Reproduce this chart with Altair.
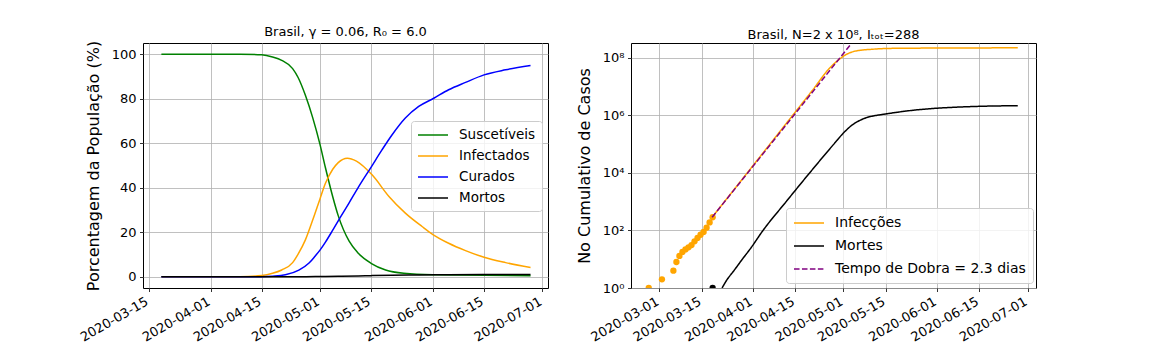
import altair as alt
import pandas as pd

FONT = "DejaVu Sans"

# ---------------- Left panel: SIR model (% of population) ----------------
sus_dates = ["2020-03-18T12:00", "2020-04-09T00:00", "2020-04-15T00:00", "2020-04-18T00:00",
             "2020-04-20T12:00", "2020-04-23T12:00", "2020-04-25T00:00", "2020-04-27T00:00",
             "2020-04-29T00:00", "2020-05-01T00:00", "2020-05-02T12:00", "2020-05-04T12:00",
             "2020-05-06T00:00", "2020-05-09T00:00", "2020-05-11T12:00", "2020-05-15T00:00",
             "2020-05-19T00:00", "2020-05-24T00:00", "2020-06-01T00:00", "2020-06-27T18:00"]
sus_vals = [100, 100, 99.7, 98.7, 97.2, 93.5, 89.5, 81.5, 71.5, 59.5, 49, 36, 27.5, 16, 10.6,
            6.1, 3.1, 1.6, 0.9, 0.5]

inf_dates = ["2020-03-18T12:00", "2020-04-09T00:00", "2020-04-15T00:00", "2020-04-18T00:00",
             "2020-04-20T12:00", "2020-04-23T12:00", "2020-04-25T00:00", "2020-04-27T00:00",
             "2020-04-29T00:00", "2020-05-01T00:00", "2020-05-02T12:00", "2020-05-04T12:00",
             "2020-05-06T00:00", "2020-05-08T12:00", "2020-05-11T00:00", "2020-05-15T07:00",
             "2020-05-19T22:00", "2020-05-24T10:00", "2020-05-29T00:00", "2020-06-01T02:00",
             "2020-06-05T07:00", "2020-06-09T22:00", "2020-06-15T00:00", "2020-06-20T22:00",
             "2020-06-27T18:00"]
inf_vals = [0, 0.1, 0.6, 1.6, 3.1, 6.4, 10.2, 16.6, 25.5, 35, 42, 48.3, 51.3, 53.3, 52, 45.8,
            36.1, 28.6, 22.6, 18.9, 15.1, 11.8, 8.8, 6.4, 4.2]

rec_dates = ["2020-03-18T12:00", "2020-04-15T00:00", "2020-04-18T00:00", "2020-04-21T12:00",
             "2020-04-25T05:00", "2020-04-28T00:00", "2020-04-29T17:00", "2020-05-01T00:00",
             "2020-05-02T12:00", "2020-05-04T07:00", "2020-05-06T02:00", "2020-05-08T22:00",
             "2020-05-11T14:00", "2020-05-15T00:00", "2020-05-18T00:00", "2020-05-20T19:00",
             "2020-05-24T10:00", "2020-05-28T02:00", "2020-06-01T05:00", "2020-06-05T07:00",
             "2020-06-09T22:00", "2020-06-15T00:00", "2020-06-20T22:00", "2020-06-27T18:00"]
rec_vals = [0, 0.1, 0.3, 0.9, 3.0, 6.2, 9.4, 12, 15.6, 20.4, 25.4, 33.0, 40.4, 49.2, 57, 63.8,
            71.3, 76.5, 80.2, 84, 87.3, 90.7, 92.96, 94.9]

dead_dates = ["2020-03-18T12:00", "2020-04-22T00:00", "2020-04-25T05:00", "2020-04-29T17:00",
              "2020-05-02T12:00", "2020-05-06T02:00", "2020-05-11T14:00", "2020-05-15T00:00",
              "2020-05-20T19:00", "2020-05-28T02:00", "2020-06-05T07:00", "2020-06-15T00:00",
              "2020-06-27T18:00"]
dead_vals = [0, 0, 0.035, 0.11, 0.19, 0.29, 0.44, 0.55, 0.72, 0.86, 0.95, 1.02, 1.07]

left_names = ["Suscetíveis", "Infectados", "Curados", "Mortos"]
left_colors = ["green", "orange", "blue", "black"]

# ---------------- Right panel: cumulative cases (log) ----------------
obs_dates = ["2020-02-26T12:00", "2020-03-01T21:00", "2020-03-05T16:00", "2020-03-06T16:00",
             "2020-03-07T16:00", "2020-03-08T16:00", "2020-03-09T16:00", "2020-03-10T16:00",
             "2020-03-11T16:00", "2020-03-12T16:00", "2020-03-13T16:00", "2020-03-14T16:00",
             "2020-03-15T16:00", "2020-03-16T16:00", "2020-03-17T16:00", "2020-03-18T16:00"]
obs_cases = [1, 2, 4, 8, 13, 18, 22, 26, 31, 42, 55, 71, 89, 125, 190, 288]

obs_death_dates = ["2020-03-18T16:00"]
obs_deaths = [1]

mod_inf_dates = ["2020-03-18T12:00", "2020-04-01T00:00", "2020-04-14T22:00", "2020-04-20T19:00",
                 "2020-04-26T07:00", "2020-04-29T14:00", "2020-05-01T19:00", "2020-05-05T02:00",
                 "2020-05-10T14:00", "2020-05-16T05:00", "2020-06-04T00:00", "2020-06-27T18:00"]
mod_inf_vals = [288, 1.78e4, 1.26e6, 7.6e6, 4.27e7, 8.9e7, 1.29e8, 1.74e8, 2.0e8, 2.14e8,
                2.21e8, 2.24e8]

mod_dead_dates = ["2020-03-21T19:00", "2020-03-23T12:00", "2020-03-25T07:00", "2020-03-28T12:00",
                  "2020-03-31T12:00", "2020-04-04T00:00", "2020-04-12T00:00", "2020-04-19T19:00",
                  "2020-04-27T19:00", "2020-05-01T02:00", "2020-05-04T02:00", "2020-05-06T07:00",
                  "2020-05-08T12:00", "2020-05-10T17:00", "2020-05-14T22:00", "2020-05-19T12:00",
                  "2020-05-25T00:00", "2020-05-31T22:00", "2020-06-10T14:00", "2020-06-27T18:00"]
mod_dead_vals = [1, 2, 3.5, 10, 26, 89, 1.0e3, 1.0e4, 1.0e5, 2.5e5, 4.8e5, 6.6e5, 8.3e5, 9.5e5,
                 1.12e6, 1.32e6, 1.55e6, 1.78e6, 2.0e6, 2.19e6]

dbl_dates = ["2020-03-18T12:00", "2020-05-03T07:00"]
dbl_vals = [288, 2.85e8]

right_names = ["Infecções", "Mortes", "Tempo de Dobra = 2.3 dias"]
right_colors = ["orange", "black", "purple"]
right_dashes = [[1, 0], [1, 0], [5.55, 2.4]]


def frame(dates, vals, name):
    return pd.DataFrame({"date": dates, "value": vals, "series": name})


left_df = pd.concat([frame(sus_dates, sus_vals, left_names[0]),
                     frame(inf_dates, inf_vals, left_names[1]),
                     frame(rec_dates, rec_vals, left_names[2]),
                     frame(dead_dates, dead_vals, left_names[3])], ignore_index=True)

right_lines = pd.concat([frame(mod_inf_dates, mod_inf_vals, right_names[0]),
                         frame(mod_dead_dates, mod_dead_vals, right_names[1]),
                         frame(dbl_dates, dbl_vals, right_names[2])], ignore_index=True)
obs_df = pd.DataFrame({"date": obs_dates, "value": obs_cases})
obs_d_df = pd.DataFrame({"date": obs_death_dates, "value": obs_deaths})

W, H = 405, 245


def dt(y, m, d, h=0):
    return alt.DateTime(year=y, month=m, date=d, hours=h)


xaxis_common = dict(format="%Y-%m-%d", labelAngle=-30, labelAlign="right", labelBaseline="top",
                    labelOffset=-5, labelOverlap=False, labelFlush=False, title=None)

left_ticks = [dt(2020, 3, 15), dt(2020, 4, 1), dt(2020, 4, 15), dt(2020, 5, 1), dt(2020, 5, 15),
              dt(2020, 6, 1), dt(2020, 6, 15), dt(2020, 7, 1)]
right_ticks = [dt(2020, 3, 1)] + left_ticks

# horizontal line symbol, 30px long, starting at the entry's left edge
legend_common = dict(title=None, orient="none", symbolType="M-1,0H3.286", symbolSize=196,
                     symbolStrokeWidth=1.5, labelFont=FONT, labelColor="black", labelLimit=400,
                     fillColor="rgba(255,255,255,0.8)", strokeColor="#cccccc", cornerRadius=3,
                     labelOffset=26)

left = alt.Chart(left_df).mark_line(strokeWidth=1.5, clip=True, interpolate="monotone").encode(
    x=alt.X("date:T", scale=alt.Scale(domain=[dt(2020, 3, 13, 11), dt(2020, 7, 2, 13)]),
            axis=alt.Axis(values=left_ticks, **xaxis_common)),
    y=alt.Y("value:Q", scale=alt.Scale(domain=[-5, 105], nice=False, zero=False),
            axis=alt.Axis(values=[0, 20, 40, 60, 80, 100], title="Porcentagem da População (%)")),
    color=alt.Color("series:N", scale=alt.Scale(domain=left_names, range=left_colors),
                    legend=alt.Legend(legendX=268, legendY=78, labelFontSize=13.5, padding=6,
                                      rowPadding=6, **legend_common)),
).properties(width=W, height=H, title="Brasil, γ = 0.06, R₀ = 6.0")

rx = alt.X("date:T", scale=alt.Scale(domain=[dt(2020, 2, 20, 15), dt(2020, 7, 3, 19)]),
           axis=alt.Axis(values=right_ticks, **xaxis_common))
ry_scale = alt.Scale(type="log", domain=[1, 3.3e8], nice=False)
ry_axis = alt.Axis(values=[1, 100, 10000, 1000000, 100000000],
                   labelExpr="datum.value < 10 ? '10⁰' : datum.value < 1000 ? '10²' : "
                             "datum.value < 100000 ? '10⁴' : datum.value < 10000000 ? '10⁶' : '10⁸'",
                   title="No Cumulativo de Casos")

obs_layer = alt.Chart(obs_df).mark_circle(size=40, opacity=1, color="orange", clip=True).encode(
    x=rx, y=alt.Y("value:Q", scale=ry_scale, axis=ry_axis))
obs_d_layer = alt.Chart(obs_d_df).mark_circle(size=40, opacity=1, color="black", clip=True).encode(
    x=rx, y=alt.Y("value:Q", scale=ry_scale, axis=ry_axis))

right_legend = alt.Legend(legendX=155, legendY=165, labelFontSize=14, padding=7, rowPadding=8,
                          **legend_common)
lines_layer = alt.Chart(right_lines).mark_line(strokeWidth=1.5, clip=True, interpolate="monotone").encode(
    x=rx, y=alt.Y("value:Q", scale=ry_scale, axis=ry_axis),
    color=alt.Color("series:N", scale=alt.Scale(domain=right_names, range=right_colors),
                    legend=right_legend),
    strokeDash=alt.StrokeDash("series:N", scale=alt.Scale(domain=right_names, range=right_dashes),
                              legend=right_legend),
)

right = alt.layer(obs_layer, obs_d_layer, lines_layer).properties(
    width=W, height=H, title="Brasil, N=2 x 10⁸, Iₜₒₜ=288")

chart = alt.hconcat(left, right, spacing=26).resolve_scale(
    color="independent", strokeDash="independent", x="independent", y="independent"
).properties(
    padding={"left": 69, "top": 17, "right": 5, "bottom": 5}
).configure(
    background="white"
).configure_view(
    stroke="black", strokeWidth=1
).configure_axis(
    grid=True, gridColor="#b0b0b0", gridWidth=0.8, domain=False,
    tickColor="black", tickSize=3.5, tickWidth=0.8,
    labelFont=FONT, labelFontSize=13, labelColor="black", labelPadding=3.5,
    titleFont=FONT, titleFontSize=16, titleFontWeight="normal", titleColor="black",
    titlePadding=10,
).configure_title(
    font=FONT, fontSize=13, fontWeight="normal", color="black", anchor="middle", offset=1
)

chart.save("out.html", embed_options={"renderer": "svg", "actions": False})
